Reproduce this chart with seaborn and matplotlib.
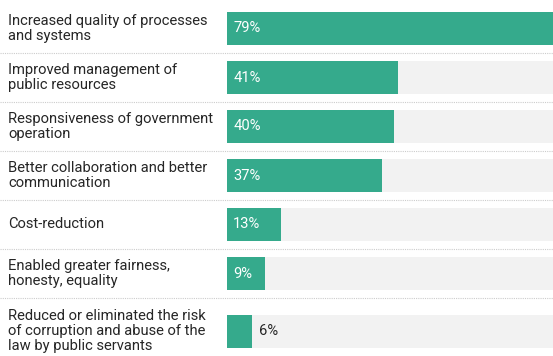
import numpy as np
import pandas as pd
import matplotlib
matplotlib.use("Agg")
import matplotlib.pyplot as plt
import matplotlib.transforms as mtransforms
import seaborn as sns

# Survey results: perceived benefits
categories = [
    "Increased quality of processes\nand systems",
    "Improved management of\npublic resources",
    "Responsiveness of government\noperation",
    "Better collaboration and better\ncommunication",
    "Cost-reduction",
    "Enabled greater fairness,\nhonesty, equality",
    "Reduced or eliminated the risk\nof corruption and abuse of the\nlaw by public servants",
]
values = [79, 41, 40, 37, 13, 9, 6]
TRACK_MAX = 100

BAR_COLOR = "#35aa8c"
TRACK_COLOR = "#f2f2f2"
TEXT_COLOR = "#262626"
SEP_COLOR = "#cccccc"

W, H, DPI = 553, 356, 100
BAR_PX = 33
LINE_PX = 17
FONT_SIZE = 10.6

sns.set_theme(style="white")
plt.rcParams["font.family"] = ["Roboto", "DejaVu Sans"]

# Row layout in pixel units: rows grow with the number of label lines
n_lines = np.array([c.count("\n") + 1 for c in categories])
row_h = np.maximum(49, LINE_PX * n_lines + 15)
starts = 4 + np.concatenate([[0], np.cumsum(row_h)[:-1]])
centers = starts + row_h / 2

df = pd.DataFrame({
    "label": categories,
    "value": values,
    "track": [TRACK_MAX] * len(values),
    "pos": centers,
})

fig = plt.figure(figsize=(W / DPI, H / DPI), dpi=DPI)
fig.patch.set_facecolor("white")
ax = fig.add_axes([227 / W, 0, (W - 227) / W, 1])

bar_width = BAR_PX / np.diff(centers).min()
common = dict(y="pos", orient="h", native_scale=True, width=bar_width,
              errorbar=None, saturation=1, linewidth=0, ax=ax)
sns.barplot(data=df, x="track", color=TRACK_COLOR, **common)
sns.barplot(data=df, x="value", color=BAR_COLOR, **common)

ax.set_xlim(0, 78)
ax.set_ylim(H, 0)
ax.set_axis_off()

# Category labels on the left, in figure x / data y coordinates
trans = mtransforms.blended_transform_factory(fig.transFigure, ax.transData)
for lab, yc in zip(categories, centers):
    ax.text(8 / W, yc, lab, transform=trans, ha="left", va="center",
            fontsize=FONT_SIZE, color=TEXT_COLOR, linespacing=1.13, clip_on=False)

# Dotted separators between rows, across the full width
for yb in starts[1:]:
    ax.plot([0, 1], [yb, yb], transform=trans, color=SEP_COLOR, lw=0.8,
            linestyle=(0, (1, 1)), clip_on=False)

# Value labels: inside wide bars, after narrow ones
for v, yc in zip(values, centers):
    if v >= 8:
        ax.annotate(f"{v}%", xy=(0, yc), xytext=(4.5, 0), textcoords="offset points",
                    ha="left", va="center", fontsize=FONT_SIZE, color="white")
    else:
        ax.annotate(f"{v}%", xy=(v, yc), xytext=(5, 0), textcoords="offset points",
                    ha="left", va="center", fontsize=FONT_SIZE, color=TEXT_COLOR)

fig.savefig("out.png", dpi=DPI, facecolor="white")
